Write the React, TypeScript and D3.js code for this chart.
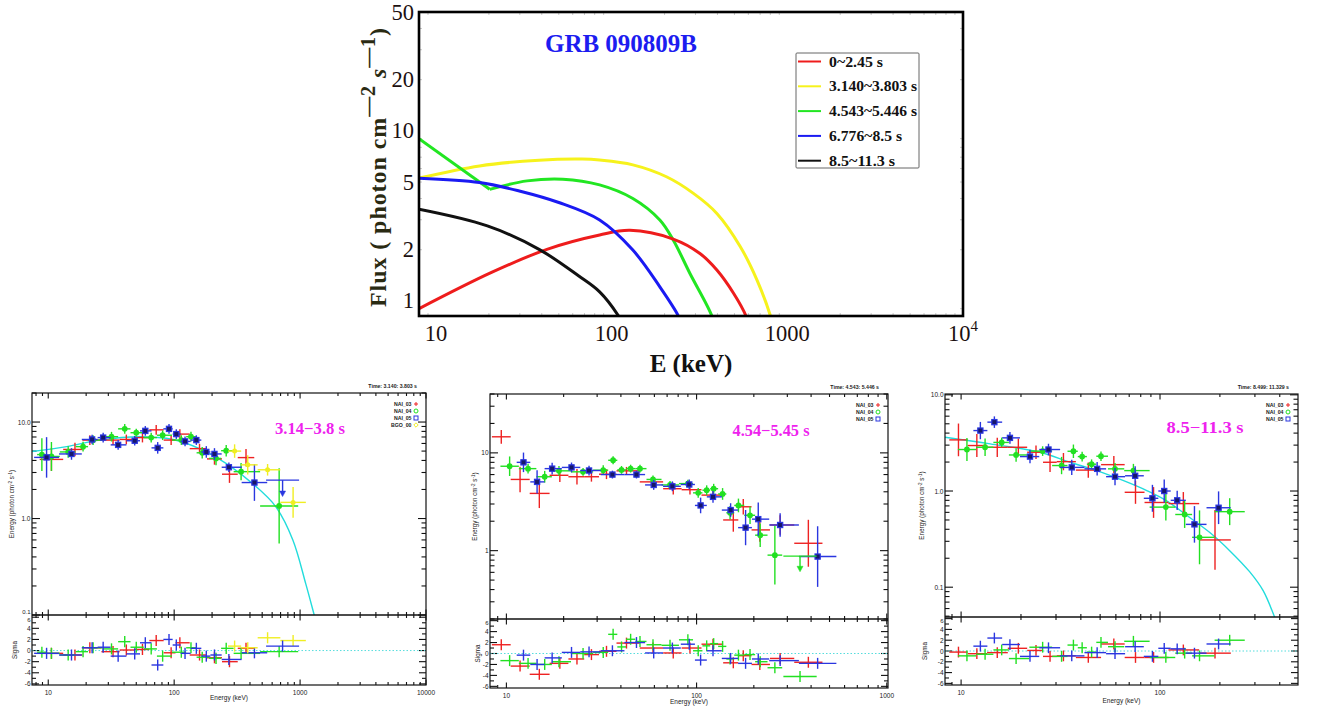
import React from "react";
import * as d3 from "d3";

// ---------------- TOP CHART DATA (E keV, Flux) ----------------
const curveRed = [[8, 0.9], [20.7, 1.47], [42.8, 2.01], [85.4, 2.44], [127, 2.6], [224, 2.31], [318, 1.9], [397, 1.52], [494, 1.11], [580, 0.82], [600, 0.72]];
const curveYellow = [[8, 5.27], [17.7, 6.22], [38.6, 6.72], [67.8, 6.82], [85.4, 6.73], [132, 6.31], [205, 5.37], [292, 4.29], [397, 3.27], [539, 2.09], [671, 1.33], [800, 0.82], [830, 0.7]];
const curveGreenLow = [[8, 9.0], [20.2, 4.53]];
const curveGreenHigh = [[20.2, 4.53], [33, 5.08], [52.7, 5.2], [85.4, 4.81], [132, 4.0], [188, 2.99], [224, 2.28], [279, 1.45], [371, 0.82], [385, 0.7]];
const curveBlue = [[8, 5.27], [17.7, 4.97], [29.8, 4.43], [50, 3.79], [85.4, 2.99], [132, 1.99], [188, 1.21], [239, 0.82], [250, 0.72]];
const curveBlack = [[8, 3.46], [19.6, 2.76], [38.6, 2.01], [65, 1.4], [85.4, 1.13], [109, 0.82], [115, 0.74]];

const topLegendLabels = ["0~2.45 s", "3.140~3.803 s", "4.543~5.446 s", "6.776~8.5 s", "8.5~11.3 s"];
const topLegendColors = ["#ee1c1c", "#f6f21c", "#22e622", "#1a1af2", "#111111"];
const topYTicks = [1, 2, 5, 10, 20, 50];
const topXTicks = ["10", "100", "1000", "10^4"];
const topXTickValues = [10, 100, 1000, 10000];

// ---------------- PANEL DATA: [E, F, errDex, sigma] ----------------
const p1Red = [[10.6, 4.1, 0.12, -0.5], [16.3, 5.2, 0.07, -0.8], [21.4, 6.5, 0.05, 0.5], [32.7, 6.5, 0.05, -0.2], [41.7, 6.6, 0.05, 0.1], [56, 6.9, 0.05, 0.2], [72, 8.3, 0.05, 1.8], [94.6, 6.5, 0.05, -0.4], [111, 7.5, 0.05, 1.4], [159, 5.3, 0.05, -0.8], [209, 4.15, 0.06, -1.3], [275, 2.88, 0.09, -2.0], [372, 4.28, 0.09, 0.4]];
const p1Green = [[8.9, 4.6, 0.17, -0.3], [10.6, 4.4, 0.15, -0.5], [14.4, 4.9, 0.06, -0.8], [18.9, 5.56, 0.05, -0.2], [22.7, 6.5, 0.05, 0.5], [31.8, 7.05, 0.05, 0.3], [40.5, 8.5, 0.05, 1.6], [50, 7.75, 0.04, 0.6], [65.7, 6.9, 0.05, 0.3], [81, 7.3, 0.05, -1.0], [114, 6.5, 0.05, -0.3], [136, 7.05, 0.05, 0.5], [167, 4.8, 0.06, -1.2], [215, 4.2, 0.07, -1.4], [259, 5.05, 0.06, 0.4], [340, 3.06, 0.09, -0.5], [682, 1.35, 0.39, -0.2]];
const p1Blue = [[9.7, 4.3, 0.21, -0.5], [15.3, 4.67, 0.06, -0.8], [22.3, 6.6, 0.05, 0.5], [27.3, 6.9, 0.05, 0.6], [35.9, 5.8, 0.05, -1.0], [48.6, 6.4, 0.05, -0.6], [59, 8.1, 0.05, 1.4], [74, 5.4, 0.06, -2.6], [91, 8.5, 0.05, 2.0], [104, 7.5, 0.05, 1.0], [122, 6.3, 0.05, -0.5], [150, 6.5, 0.05, 0.4], [180, 4.9, 0.06, -1.0], [209, 4.67, 0.06, -0.8], [272, 3.4, 0.05, -1.6], [434, 2.36, 0.19, -0.4]];
const p1Yellow = [[302, 5.0, 0.07, 0.8], [384, 3.6, 0.1, 0.5], [552, 3.2, 0.06, 2.3], [880, 1.47, 0.16, 1.8]];
// upper limits: [Elo, Ehi, Fbar, Farrow, sigma]
const p1BlueUL = [[537, 982, 2.5, 1.75, 0.8]];
const p1Model = [[7.43, 4.95], [14, 5.56], [25.6, 6.5], [53, 7.05], [98, 6.6], [159, 5.3], [260, 3.7], [420, 2.3], [640, 1.33], [876, 0.6], [1110, 0.21], [1295, 0.1], [1340, 0.085]];

const p2Red = [[9.4, 14.6, 0.07, 1.6], [11.8, 5.35, 0.13, -2.3], [14.9, 3.85, 0.15, -3.8], [19.1, 5.9, 0.07, -1.8], [23.5, 5.7, 0.08, -1.0], [28, 5.7, 0.05, -0.2], [33.6, 6.05, 0.05, 0.4], [42.8, 6.55, 0.04, 1.9], [59, 5.05, 0.04, 1.0], [75.4, 4.3, 0.06, 0.1], [92.3, 4.2, 0.05, 1.0], [122, 3.7, 0.04, 1.7], [156, 2.06, 0.12, -1.7], [176, 2.81, 0.08, -0.4], [215, 1.63, 0.12, -2.0], [275, 1.83, 0.1, -0.9], [387, 1.19, 0.24, -1.6]];
const p2Green = [[10.4, 7.3, 0.1, -1.3], [13, 6.9, 0.05, -1.8], [15.9, 5.7, 0.06, -2.0], [18.9, 6.55, 0.05, -1.5], [25.3, 6.4, 0.04, 0.0], [32.3, 6.65, 0.05, 0.2], [36.4, 8.4, 0.04, 3.5], [40.3, 6.7, 0.04, 1.2], [45, 6.9, 0.04, 2.6], [50.4, 6.9, 0.04, 2.2], [59, 5.35, 0.04, 1.6], [72.5, 4.7, 0.04, 1.5], [90, 4.85, 0.04, 2.5], [102, 3.9, 0.05, 0.5], [113, 4.15, 0.05, 1.4], [123, 4.3, 0.05, 1.8], [137, 3.8, 0.06, 1.3], [150, 2.44, 0.07, -1.0], [166, 2.9, 0.07, -0.3], [191, 2.3, 0.09, -0.2], [216, 1.44, 0.12, -1.5], [258, 0.9, 0.3, -2.6]];
const p2Blue = [[12.3, 8.0, 0.1, -0.3], [14.5, 5.05, 0.12, -2.0], [17.4, 6.9, 0.06, -0.8], [22, 7.1, 0.05, 0.2], [27.2, 6.6, 0.05, 0.3], [36.1, 6.0, 0.04, 0.5], [48.3, 6.0, 0.04, 2.0], [59.5, 4.7, 0.05, 0.1], [74.6, 4.55, 0.05, 1.0], [91.5, 4.75, 0.05, 1.7], [105, 2.9, 0.08, -1.2], [122, 3.55, 0.06, 0.5], [151, 2.6, 0.07, -0.9], [181, 1.72, 0.18, -1.8], [211, 2.1, 0.17, -1.0], [275, 1.83, 0.12, -1.3], [433, 0.87, 0.31, -1.8]];
const p2GreenUL = [[286, 428, 0.88, 0.63, -4.2]];

const p3Red = [[9.7, 3.4, 0.17, -0.2], [12, 2.97, 0.12, -0.5], [15.2, 2.85, 0.1, -0.3], [19.4, 2.85, 0.09, 0.5], [23.8, 2.53, 0.07, 0.1], [28, 1.99, 0.1, -1.0], [32.7, 2.02, 0.09, -0.9], [43.6, 1.65, 0.08, -1.2], [58.6, 1.88, 0.09, 1.3], [75.3, 0.97, 0.12, -1.2], [92.8, 0.76, 0.16, -1.2], [131, 0.74, 0.12, 0.2], [189, 0.31, 0.31, -0.4]];
const p3Green = [[10.7, 2.7, 0.12, -0.9], [13.2, 2.85, 0.09, -0.6], [16, 3.2, 0.05, 0.2], [18.9, 2.37, 0.07, -1.4], [25.7, 2.6, 0.05, 0.7], [32, 1.84, 0.09, -1.0], [36.7, 2.59, 0.07, 1.1], [40.6, 2.28, 0.05, 0.6], [45.3, 1.9, 0.05, -0.2], [50.5, 2.3, 0.05, 1.6], [59.4, 1.7, 0.06, 0.8], [73.5, 1.63, 0.07, 1.8], [107, 0.68, 0.14, -1.2], [133, 0.57, 0.14, -0.4], [158, 0.33, 0.28, -0.9], [224, 0.61, 0.14, 2.0]];
const p3Blue = [[12.5, 4.25, 0.09, 0.9], [14.7, 5.2, 0.06, 2.4], [17.6, 3.57, 0.06, 1.2], [22.2, 2.28, 0.07, -1.0], [27.5, 2.7, 0.06, 0.6], [36, 1.76, 0.08, -0.9], [48.3, 1.7, 0.07, -0.3], [59.4, 1.41, 0.09, -0.5], [75, 1.44, 0.1, 0.8], [91.6, 0.84, 0.14, -1.0], [105, 1.0, 0.12, 0.5], [122, 0.8, 0.1, 0.4], [149, 0.45, 0.19, -0.4], [197, 0.67, 0.17, 1.3]];
const p3Model = [[8.3, 3.62], [14, 3.09], [24.9, 2.53], [35.3, 1.99], [48.1, 1.63], [65.6, 1.28], [85.8, 1.01], [108, 0.79], [141, 0.53], [178, 0.37], [224, 0.24], [282, 0.145], [330, 0.092], [378, 0.048], [390, 0.04]];

const detNames = ["NAI_03", "NAI_04", "NAI_05", "BGO_00"];
const detColors = ["#ee2222", "#22e022", "#2a36e0", "#f0ee22"];
const panelTitles = ["3.14\u22123.8 s", "4.54\u22125.45 s", "8.5\u221211.3 s"];
const panelTimes = ["Time: 3.140: 3.803 s", "Time: 4.543: 5.446 s", "Time: 8.499: 11.329 s"];

// ---------------- LAYOUT ----------------
const TOP = { left: 419, right: 963, top: 12, bottom: 316 };
const serif = "'Liberation Serif', 'Times New Roman', serif";
const sans = "'Liberation Sans', Arial, sans-serif";

const panelCfgs = [
  { id: 1, left: 32, right: 426, top: 393, mid: 615, bottom: 685, xDomain: [7.43, 10000], yDomain: [0.1, 20], rDomain: [-6.2, 6.4], xLabels: [10, 100, 1000, 10000], yLabels: [[10, "10.0"], [1, "1.0"], [0.1, "0.1"]], titleX: 310, titleY: 434, titleLen: 70, ylabX: 14, xlabY: 700 },
  { id: 2, left: 490, right: 888, top: 394, mid: 619, bottom: 688, xDomain: [8.2, 1015], yDomain: [0.2, 40], rDomain: [-6.3, 6.3], xLabels: [10, 100, 1000], yLabels: [[10, "10"], [1, "1"]], titleX: 771, titleY: 436, titleLen: 77, ylabX: 477, xlabY: 704 },
  { id: 3, left: 945, right: 1298, top: 394, mid: 617, bottom: 685, xDomain: [8.3, 494], yDomain: [0.049, 10.2], rDomain: [-6.3, 6.3], xLabels: [10, 100], yLabels: [[10, "10.0"], [1, "1.0"], [0.1, "0.1"]], titleX: 1205, titleY: 433, titleLen: 77, ylabX: 924, xlabY: 703 },
];

function withBins(pts: number[][]) {
  const s = [...pts].sort((a, b) => a[0] - b[0]);
  return s.map((p, i) => {
    const L = Math.log10(p[0]);
    const prev = i > 0 ? Math.log10(s[i - 1][0]) : null;
    const next = i < s.length - 1 ? Math.log10(s[i + 1][0]) : null;
    let dl = prev !== null ? (L - prev) / 2 : next !== null ? (next - L) / 2 : 0.05;
    let dh = next !== null ? (next - L) / 2 : dl;
    dl = Math.min(dl, 0.2);
    dh = Math.min(dh, 0.2);
    return { E: p[0], F: p[1], err: p[2], res: p[3], lo: 10 ** (L - dl), hi: 10 ** (L + dh) };
  });
}

function logTicks(domain: number[]) {
  const out: { v: number; major: boolean }[] = [];
  const lo = Math.floor(Math.log10(domain[0]));
  const hi = Math.ceil(Math.log10(domain[1]));
  for (let d = lo; d <= hi; d++) {
    for (let m = 1; m <= 9; m++) {
      const v = m * 10 ** d;
      if (v >= domain[0] * 0.9999 && v <= domain[1] * 1.0001) out.push({ v, major: m === 1 });
    }
  }
  return out;
}

function TopChart() {
  const x = d3.scaleLog().domain([8, 10000]).range([TOP.left, TOP.right]);
  const y = d3.scaleLog().domain([0.815, 50]).range([TOP.bottom, TOP.top]);
  const smooth = d3.line<number[]>().x((d) => x(d[0])).y((d) => y(d[1])).curve(d3.curveCatmullRom.alpha(0.5));
  const straight = d3.line<number[]>().x((d) => x(d[0])).y((d) => y(d[1]));
  const minorX = logTicks([8, 10000]).filter((t) => !t.major);
  const minorY = logTicks([0.815, 50]).filter((t) => !t.major);
  const curves: [string, string][] = [
    [smooth(curveYellow) as string, topLegendColors[1]],
    [straight(curveGreenLow) as string, topLegendColors[2]],
    [smooth(curveGreenHigh) as string, topLegendColors[2]],
    [smooth(curveRed) as string, topLegendColors[0]],
    [smooth(curveBlue) as string, topLegendColors[3]],
    [smooth(curveBlack) as string, topLegendColors[4]],
  ];
  const legendLens = [54, 88, 88, 73, 66];
  return (
    <g>
      <defs>
        <clipPath id="topclip">
          <rect x={TOP.left} y={TOP.top} width={TOP.right - TOP.left} height={TOP.bottom - TOP.top} />
        </clipPath>
      </defs>
      {minorX.map((t, i) => (
        <g key={"mx" + i} stroke="#bbb" strokeWidth={0.8}>
          <line x1={x(t.v)} x2={x(t.v)} y1={TOP.top} y2={TOP.top + 3} />
          <line x1={x(t.v)} x2={x(t.v)} y1={TOP.bottom} y2={TOP.bottom - 3} />
        </g>
      ))}
      {minorY.map((t, i) => (
        <g key={"my" + i} stroke="#bbb" strokeWidth={0.8}>
          <line x1={TOP.left} x2={TOP.left + 3} y1={y(t.v)} y2={y(t.v)} />
          <line x1={TOP.right} x2={TOP.right - 3} y1={y(t.v)} y2={y(t.v)} />
        </g>
      ))}
      <g clipPath="url(#topclip)">
        {curves.map(([d, c], i) => (
          <path key={i} d={d} fill="none" stroke={c} strokeWidth={3} strokeLinejoin="round" />
        ))}
      </g>
      <rect x={TOP.left} y={TOP.top} width={TOP.right - TOP.left} height={TOP.bottom - TOP.top} fill="none" stroke="#000" strokeWidth={2.6} />
      {topYTicks.map((v) => (
        <text key={"yt" + v} x={TOP.left - 5} y={y(v)} textAnchor="end" dominantBaseline="central" fontFamily={serif} fontSize={22.5} fill="#1c1010">
          {v}
        </text>
      ))}
      {topXTickValues.map((v, i) => (
        <text key={"xt" + v} x={x(v)} y={341} textAnchor="middle" fontFamily={serif} fontSize={22.5} fill="#1c1010">
          {topXTicks[i] === "10^4" ? (
            <>
              10<tspan dy={-10} fontSize={15}>4</tspan>
            </>
          ) : (
            topXTicks[i]
          )}
        </text>
      ))}
      <text x={691} y={372} textAnchor="middle" fontFamily={serif} fontWeight="bold" fontSize={25} fill="#111">
        E (keV)
      </text>
      <text transform="translate(386,307) rotate(-90)" fontFamily={serif} fontWeight="bold" fontSize={24} fill="#2a2a12" textLength={279} lengthAdjust="spacing">
        Flux ( photon cm
        <tspan dy={-11} fontSize={20}>{"\u20142"}</tspan>
        <tspan dy={11}> </tspan>
        <tspan fontStyle="italic">s</tspan>
        <tspan dy={-11} fontSize={20}>{"\u20141"}</tspan>
        <tspan dy={11}>)</tspan>
      </text>
      <text x={621} y={52} textAnchor="middle" fontFamily={serif} fontWeight="bold" fontSize={25} fill="#1c1cf0">
        GRB 090809B
      </text>
      <rect x={796} y={53} width={123} height={115} fill="#fff" stroke="#666" strokeWidth={1} rx={1} />
      {topLegendLabels.map((lab, i) => (
        <g key={lab}>
          <line x1={798} x2={821} y1={61.5 + i * 24.8} y2={61.5 + i * 24.8} stroke={topLegendColors[i]} strokeWidth={2} />
          <text x={829} y={61.5 + i * 24.8} dominantBaseline="central" fontFamily={serif} fontWeight="bold" fontSize={14.5} fill="#111" textLength={legendLens[i]} lengthAdjust="spacingAndGlyphs">
            {lab}
          </text>
        </g>
      ))}
    </g>
  );
}

type PanelProps = {
  cfg: (typeof panelCfgs)[number];
  series: { pts: number[][]; color: string; marker: string }[];
  uls: { pts: number[][]; color: string }[];
  model: number[][] | null;
  legendN: number;
  title: string;
  time: string;
};

function Marker({ kind, cx, cy, color }: { kind: string; cx: number; cy: number; color: string }) {
  if (kind === "circle") return <circle cx={cx} cy={cy} r={2.2} fill={color} />;
  if (kind === "square") return <rect x={cx - 2.6} y={cy - 2.6} width={5.2} height={5.2} fill="#17176a" stroke={color} strokeWidth={1.2} />;
  if (kind === "dot") return <circle cx={cx} cy={cy} r={1.8} fill={color} />;
  return null;
}

function Panel({ cfg, series, uls, model, legendN, title, time }: PanelProps) {
  const x = d3.scaleLog().domain(cfg.xDomain).range([cfg.left, cfg.right]);
  const y = d3.scaleLog().domain(cfg.yDomain).range([cfg.mid, cfg.top]);
  const r = d3.scaleLinear().domain(cfg.rDomain).range([cfg.bottom, cfg.mid]);
  const xt = logTicks(cfg.xDomain);
  const yt = logTicks(cfg.yDomain);
  const rt = d3.range(-6, 7, 1);
  const w = cfg.right - cfg.left;
  const mainId = "pm" + cfg.id;
  const resId = "pr" + cfg.id;
  const modelLine = d3.line<number[]>().x((d) => x(d[0])).y((d) => y(d[1])).curve(d3.curveCatmullRom.alpha(0.5));
  const binned = series.map((s) => ({ ...s, b: withBins(s.pts) }));
  const tk = { stroke: "#111", strokeWidth: 1.1 };
  const markerKinds = ["plus", "circle", "square", "dot"];
  return (
    <g>
      <defs>
        <clipPath id={mainId}>
          <rect x={cfg.left} y={cfg.top} width={w} height={cfg.mid - cfg.top} />
        </clipPath>
        <clipPath id={resId}>
          <rect x={cfg.left} y={cfg.mid} width={w} height={cfg.bottom - cfg.mid} />
        </clipPath>
      </defs>
      {xt.map((t, i) => {
        const X = x(t.v);
        const L = t.major ? 5.5 : 3;
        return (
          <g key={"xt" + i} {...tk}>
            <line x1={X} x2={X} y1={cfg.top} y2={cfg.top + L} />
            <line x1={X} x2={X} y1={cfg.mid - L} y2={cfg.mid + L} />
            <line x1={X} x2={X} y1={cfg.bottom} y2={cfg.bottom - L} />
          </g>
        );
      })}
      {yt.map((t, i) => {
        const Y = y(t.v);
        const L = t.major ? 8 : 4.5;
        return (
          <g key={"yt" + i} {...tk}>
            <line x1={cfg.left} x2={cfg.left + L} y1={Y} y2={Y} />
            <line x1={cfg.right} x2={cfg.right - L} y1={Y} y2={Y} />
          </g>
        );
      })}
      {rt.map((v) => {
        const Y = r(v);
        const L = v % 2 === 0 ? 7 : 4;
        return (
          <g key={"rt" + v} {...tk}>
            <line x1={cfg.left} x2={cfg.left + L} y1={Y} y2={Y} />
            <line x1={cfg.right} x2={cfg.right - L} y1={Y} y2={Y} />
          </g>
        );
      })}
      <line x1={cfg.left} x2={cfg.right} y1={r(0)} y2={r(0)} stroke="#55dddd" strokeWidth={1} strokeDasharray="1.5 2" />
      {model && (
        <path d={modelLine(model) as string} fill="none" stroke="#22dcdc" strokeWidth={1.4} clipPath={`url(#${mainId})`} />
      )}
      <g clipPath={`url(#${mainId})`}>
        {binned.map((s, si) =>
          s.b.map((p, i) => (
            <g key={si + "-" + i} stroke={s.color} strokeWidth={1.4}>
              <line x1={x(p.lo)} x2={x(p.hi)} y1={y(p.F)} y2={y(p.F)} />
              <line x1={x(p.E)} x2={x(p.E)} y1={y(p.F / 10 ** p.err)} y2={y(p.F * 10 ** p.err)} />
              <Marker kind={s.marker} cx={x(p.E)} cy={y(p.F)} color={s.color} />
            </g>
          ))
        )}
        {uls.map((s, si) =>
          s.pts.map((p, i) => {
            const cx = x(Math.sqrt(p[0] * p[1]));
            const ya = y(p[3]);
            return (
              <g key={"ul" + si + i} stroke={s.color} strokeWidth={1.4}>
                <line x1={x(p[0])} x2={x(p[1])} y1={y(p[2])} y2={y(p[2])} />
                <line x1={cx} x2={cx} y1={y(p[2])} y2={ya - 3} />
                <polygon points={`${cx - 3},${ya - 4} ${cx + 3},${ya - 4} ${cx},${ya + 1.5}`} fill={s.color} strokeWidth={0.5} />
              </g>
            );
          })
        )}
      </g>
      <g clipPath={`url(#${resId})`}>
        {binned.map((s, si) =>
          s.b.map((p, i) => (
            <g key={"r" + si + "-" + i} stroke={s.color} strokeWidth={1.4}>
              <line x1={x(p.lo)} x2={x(p.hi)} y1={r(p.res)} y2={r(p.res)} />
              <line x1={x(p.E)} x2={x(p.E)} y1={r(p.res - 1)} y2={r(p.res + 1)} />
            </g>
          ))
        )}
        {uls.map((s, si) =>
          s.pts.map((p, i) => {
            const cx = x(Math.sqrt(p[0] * p[1]));
            return (
              <g key={"rul" + si + i} stroke={s.color} strokeWidth={1.4}>
                <line x1={x(p[0])} x2={x(p[1])} y1={r(p[4])} y2={r(p[4])} />
                <line x1={cx} x2={cx} y1={r(p[4] - 1)} y2={r(p[4] + 1)} />
              </g>
            );
          })
        )}
      </g>
      <rect x={cfg.left} y={cfg.top} width={w} height={cfg.bottom - cfg.top} fill="none" stroke="#111" strokeWidth={1.2} />
      <line x1={cfg.left} x2={cfg.right} y1={cfg.mid} y2={cfg.mid} stroke="#111" strokeWidth={1.6} />
      {cfg.xLabels.map((v) => (
        <text key={"xl" + v} x={x(v)} y={cfg.bottom + 9.5} textAnchor="middle" fontFamily={sans} fontSize={6.5} fill="#222">
          {v}
        </text>
      ))}
      {cfg.yLabels.map(([v, s]) => {
        const Y = y(v as number);
        const near = Math.abs(Y - cfg.mid) < 4;
        return (
          <text key={"yl" + s} x={cfg.left - 1.5} y={near ? Y - 3.5 : Y} textAnchor="end" dominantBaseline="central" fontFamily={sans} fontSize={near ? 6 : 6.5} fill="#222">
            {s}
          </text>
        );
      })}
      {rt.filter((v) => v % 2 === 0).map((v) => (
        <text key={"rl" + v} x={cfg.left - 1.5} y={v === 6 ? r(v) + 2.5 : r(v)} textAnchor="end" dominantBaseline="central" fontFamily={sans} fontSize={v === 6 ? 6 : 6.5} fill="#222">
          {v}
        </text>
      ))}
      <text x={(cfg.left + cfg.right) / 2} y={cfg.xlabY} textAnchor="middle" fontFamily={sans} fontSize={6.5} fill="#222">
        Energy (keV)
      </text>
      <text transform={`translate(${cfg.ylabX},${(cfg.top + cfg.mid) / 2}) rotate(-90)`} textAnchor="middle" fontFamily={sans} fontSize={6.3} fill="#222">
        Energy (photon cm<tspan dy={-2} fontSize={4.5}>-2</tspan>
        <tspan dy={2}> s</tspan>
        <tspan dy={-2} fontSize={4.5}>-1</tspan>
        <tspan dy={2}>)</tspan>
      </text>
      <text transform={`translate(${cfg.ylabX + 3},${(cfg.mid + cfg.bottom) / 2}) rotate(-90)`} textAnchor="middle" fontFamily={sans} fontSize={6.3} fill="#222">
        Sigma
      </text>
      <text x={cfg.right - 9} y={cfg.top - 5} textAnchor="end" fontFamily={sans} fontWeight="bold" fontSize={5.2} fill="#222">
        {time}
      </text>
      {detNames.slice(0, legendN).map((n, i) => {
        const ly = cfg.top + 11 + i * 7;
        const sx = cfg.right - 10;
        return (
          <g key={n}>
            <text x={sx - 4.5} y={ly} textAnchor="end" dominantBaseline="central" fontFamily={sans} fontWeight="bold" fontSize={5.2} fill="#222">
              {n}
            </text>
            {markerKinds[i] === "plus" && (
              <g stroke={detColors[i]} strokeWidth={1}>
                <line x1={sx - 2} x2={sx + 2} y1={ly} y2={ly} />
                <line x1={sx} x2={sx} y1={ly - 2} y2={ly + 2} />
              </g>
            )}
            {markerKinds[i] === "circle" && <circle cx={sx} cy={ly} r={2} fill="none" stroke={detColors[i]} strokeWidth={1} />}
            {markerKinds[i] === "square" && <rect x={sx - 2} y={ly - 2} width={4} height={4} fill="none" stroke={detColors[i]} strokeWidth={1} />}
            {markerKinds[i] === "dot" && <polygon points={`${sx - 2.2},${ly} ${sx},${ly - 2.2} ${sx + 2.2},${ly} ${sx},${ly + 2.2}`} fill="none" stroke={detColors[i]} strokeWidth={1} />}
          </g>
        );
      })}
      <text x={cfg.titleX} y={cfg.titleY} textAnchor="middle" fontFamily={serif} fontWeight="bold" fontSize={16.5} fill="#ee22ee" textLength={cfg.titleLen} lengthAdjust="spacingAndGlyphs">
        {title}
      </text>
    </g>
  );
}

export default function App() {
  const [c1, c2, c3] = panelCfgs;
  return (
    <svg width={1323} height={708} viewBox="0 0 1323 708" style={{ position: "absolute", left: 0, top: 0, background: "#fff" }}>
      <rect x={0} y={0} width={1323} height={708} fill="#fff" />
      <TopChart />
      <Panel
        cfg={c1}
        series={[
          { pts: p1Red, color: detColors[0], marker: "none" },
          { pts: p1Green, color: detColors[1], marker: "circle" },
          { pts: p1Blue, color: detColors[2], marker: "square" },
          { pts: p1Yellow, color: detColors[3], marker: "dot" },
        ]}
        uls={[{ pts: p1BlueUL, color: detColors[2] }]}
        model={p1Model}
        legendN={4}
        title={panelTitles[0]}
        time={panelTimes[0]}
      />
      <Panel
        cfg={c2}
        series={[
          { pts: p2Red, color: detColors[0], marker: "none" },
          { pts: p2Green, color: detColors[1], marker: "circle" },
          { pts: p2Blue, color: detColors[2], marker: "square" },
        ]}
        uls={[{ pts: p2GreenUL, color: detColors[1] }]}
        model={null}
        legendN={3}
        title={panelTitles[1]}
        time={panelTimes[1]}
      />
      <Panel
        cfg={c3}
        series={[
          { pts: p3Red, color: detColors[0], marker: "none" },
          { pts: p3Green, color: detColors[1], marker: "circle" },
          { pts: p3Blue, color: detColors[2], marker: "square" },
        ]}
        uls={[]}
        model={p3Model}
        legendN={3}
        title={panelTitles[2]}
        time={panelTimes[2]}
      />
    </svg>
  );
}
